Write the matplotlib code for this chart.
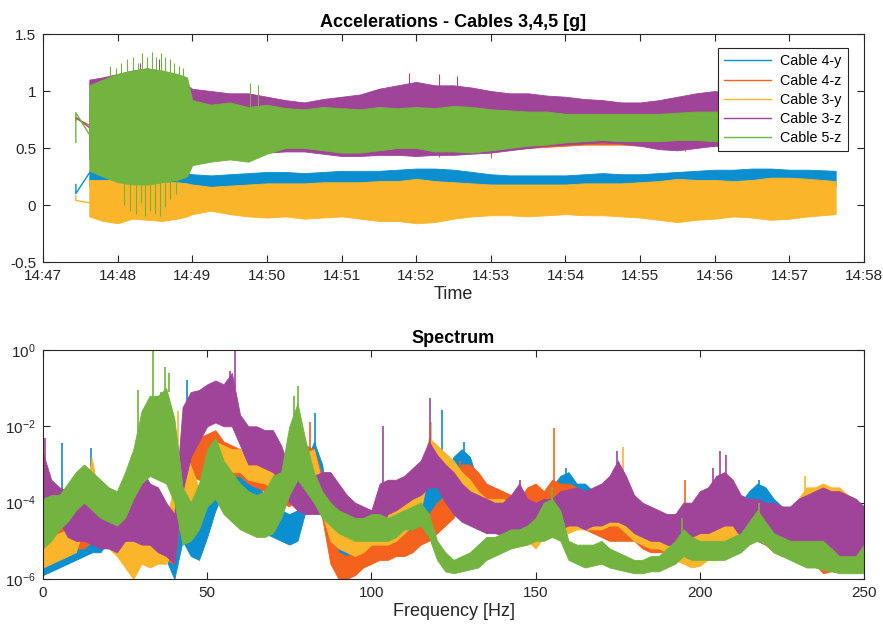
import datetime as dt
import numpy as np
import matplotlib
matplotlib.use("Agg")
import matplotlib.pyplot as plt
import matplotlib.dates as mdates
from matplotlib.ticker import LogFormatterMathtext, NullLocator

plt.rcParams['font.family'] = ['Liberation Sans', 'DejaVu Sans']
plt.rcParams['font.size'] = 10
plt.rcParams['mathtext.fontset'] = 'custom'
plt.rcParams['mathtext.rm'] = 'Liberation Sans'
plt.rcParams['axes.edgecolor'] = '#262626'
plt.rcParams['xtick.color'] = '#262626'
plt.rcParams['ytick.color'] = '#262626'

names = ['Cable 4-y', 'Cable 4-z', 'Cable 3-y', 'Cable 3-z', 'Cable 5-z']
colors = ['#0B8FD1', '#F5621E', '#FBB52B', '#A0449A', '#72B43F']

# ---------------- time signals (minutes after 14:47), envelope of each record
t_early = [0.44, 0.44, 0.62]
early = {
    'Cable 4-y': [0.18, 0.10, 0.28],
    'Cable 4-z': [0.74, 0.76, 0.70],
    'Cable 3-y': [0.08, 0.04, 0.02],
    'Cable 3-z': [0.76, 0.77, 0.68],
    'Cable 5-z': [0.55, 0.81, 0.62],
}

t_min = [0.62, 0.8, 1.0, 1.2, 1.4, 1.6, 1.8, 1.93, 2.0, 2.25, 2.5, 2.75, 3.0, 3.25,
         3.5, 3.75, 4.0, 4.25, 4.5, 4.75, 5.0, 5.25, 5.5, 5.75, 6.0, 6.25, 6.5, 6.75,
         7.0, 7.25, 7.5, 7.75, 8.0, 8.25, 8.5, 8.75, 9.0, 9.25, 9.5, 9.75, 10.0, 10.25, 10.62]

c4y_hi = [0.30, 0.30, 0.31, 0.30, 0.30, 0.30, 0.29, 0.28, 0.27, 0.26, 0.27, 0.28, 0.29, 0.29,
          0.28, 0.29, 0.30, 0.30, 0.30, 0.31, 0.32, 0.32, 0.31, 0.29, 0.27, 0.26, 0.26, 0.26,
          0.26, 0.27, 0.28, 0.27, 0.27, 0.28, 0.29, 0.30, 0.31, 0.31, 0.32, 0.32, 0.31, 0.31, 0.30]
c4y_lo = [0.16] * 43

c4z_hi = [0.85, 0.88, 0.9, 0.92, 0.92, 0.9, 0.88, 0.85, 0.82, 0.8, 0.8, 0.8, 0.8, 0.78,
          0.78, 0.8, 0.82, 0.84, 0.86, 0.88, 0.9, 0.88, 0.86, 0.85, 0.84, 0.82, 0.82, 0.8,
          0.8, 0.78, 0.78, 0.77, 0.77, 0.78, 0.8, 0.82, 0.83, 0.82, 0.8, 0.8, 0.79, 0.78, 0.78]
c4z_lo = [0.45, 0.45, 0.45, 0.45, 0.45, 0.45, 0.45, 0.45, 0.47, 0.47, 0.47, 0.48, 0.48, 0.49,
          0.49, 0.48, 0.47, 0.47, 0.48, 0.48, 0.47, 0.47, 0.48, 0.48, 0.48, 0.49, 0.5, 0.51,
          0.52, 0.53, 0.53, 0.53, 0.52, 0.51, 0.5, 0.51, 0.52, 0.52, 0.53, 0.53, 0.53, 0.53, 0.53]

c3y_hi = [0.22, 0.22, 0.22, 0.21, 0.21, 0.20, 0.20, 0.19, 0.18, 0.16, 0.17, 0.18, 0.19, 0.19,
          0.19, 0.20, 0.20, 0.20, 0.21, 0.21, 0.23, 0.21, 0.20, 0.19, 0.18, 0.18, 0.18, 0.18,
          0.18, 0.19, 0.19, 0.19, 0.20, 0.21, 0.23, 0.22, 0.22, 0.21, 0.22, 0.24, 0.24, 0.23, 0.21]
c3y_lo = [-0.10, -0.14, -0.16, -0.12, -0.13, -0.14, -0.12, -0.10, -0.08, -0.05, -0.08, -0.10, -0.11, -0.10,
          -0.12, -0.11, -0.10, -0.12, -0.14, -0.14, -0.16, -0.15, -0.12, -0.10, -0.09, -0.09, -0.10, -0.09,
          -0.08, -0.09, -0.09, -0.10, -0.11, -0.13, -0.15, -0.13, -0.12, -0.10, -0.11, -0.13, -0.12, -0.10, -0.08]

c3z_hi = [1.10, 1.12, 1.15, 1.18, 1.20, 1.15, 1.10, 1.05, 1.02, 1.00, 0.98, 0.98, 0.95, 0.92,
          0.90, 0.93, 0.95, 0.97, 1.02, 1.05, 1.08, 1.05, 1.05, 1.03, 1.00, 0.98, 0.98, 0.96,
          0.95, 0.93, 0.92, 0.90, 0.90, 0.92, 0.95, 0.98, 1.00, 0.98, 0.95, 0.93, 0.92, 0.90, 0.90]
c3z_lo = [0.40, 0.40, 0.40, 0.40, 0.40, 0.40, 0.40, 0.40, 0.45, 0.45, 0.45, 0.45, 0.46, 0.47,
          0.47, 0.45, 0.43, 0.43, 0.44, 0.44, 0.43, 0.44, 0.44, 0.45, 0.46, 0.48, 0.5, 0.52,
          0.53, 0.54, 0.55, 0.54, 0.52, 0.49, 0.48, 0.5, 0.52, 0.53, 0.53, 0.53, 0.53, 0.53, 0.53]

c5z_hi = [1.05, 1.10, 1.15, 1.18, 1.20, 1.18, 1.15, 1.12, 0.92, 0.88, 0.90, 0.86, 0.88, 0.85,
          0.84, 0.86, 0.85, 0.84, 0.86, 0.85, 0.86, 0.85, 0.87, 0.86, 0.84, 0.83, 0.82, 0.82,
          0.80, 0.80, 0.80, 0.80, 0.80, 0.80, 0.81, 0.82, 0.82, 0.82, 0.82, 0.80, 0.80, 0.80, 0.80]
c5z_lo = [0.30, 0.25, 0.20, 0.18, 0.18, 0.20, 0.22, 0.25, 0.35, 0.38, 0.40, 0.38, 0.45, 0.50,
          0.50, 0.48, 0.46, 0.46, 0.48, 0.50, 0.50, 0.47, 0.47, 0.46, 0.48, 0.50, 0.52, 0.53,
          0.55, 0.56, 0.57, 0.56, 0.56, 0.56, 0.57, 0.57, 0.56, 0.56, 0.56, 0.56, 0.56, 0.56, 0.56]

# spikes standing out of the envelopes (time, from, to)
spk_t = {
    'Cable 4-z': [4.1, 5.3, 6.0, 8.6],
    'Cable 3-z': [1.3, 1.55, 4.9, 5.3, 5.55, 9.05, 9.3],
    'Cable 5-z': [0.9, 0.98, 1.05, 1.12, 1.2, 1.27, 1.33, 1.4, 1.46, 1.52, 1.58, 1.64, 1.7,
                  1.76, 1.82, 1.88, 2.78, 2.88,
                  1.08, 1.16, 1.24, 1.31, 1.37, 1.44, 1.5, 1.57, 1.63, 1.7, 1.78],
}
spk_lo = {
    'Cable 4-z': [0.43, 0.42, 0.41, 0.47],
    'Cable 3-z': [1.0, 1.0, 0.95, 0.95, 0.95, 0.9, 0.9],
    'Cable 5-z': [0.9, 0.9, 0.9, 0.9, 0.9, 0.9, 0.9, 0.9, 0.9, 0.9, 0.9, 0.9, 0.9,
                  0.9, 0.9, 0.9, 0.7, 0.7,
                  0.0, -0.05, -0.08, 0.02, -0.1, -0.05, -0.08, -0.1, -0.02, 0.05, 0.1],
}
spk_hi = {
    'Cable 4-z': [0.55, 0.55, 0.55, 0.55],
    'Cable 3-z': [1.25, 1.28, 1.16, 1.15, 1.13, 1.1, 1.08],
    'Cable 5-z': [1.22, 1.2, 1.25, 1.28, 1.3, 1.25, 1.33, 1.3, 1.34, 1.3, 1.33, 1.3, 1.28,
                  1.25, 1.22, 1.2, 1.07, 1.05,
                  0.3, 0.3, 0.3, 0.3, 0.3, 0.3, 0.3, 0.3, 0.3, 0.3, 0.3],
}

# ---------------- spectrum, log10 envelopes on a 2.5 Hz grid
freq = np.linspace(0, 250, 101)

s4y_hi = [-4.9, -4.8, -4.7, -4.6, -4.5, -4.3, -4.2, -4.5, -4.5, -4.2,
          -3.8, -3.1, -3.1, -3.5, -3.8, -4.2, -4.5, -3.5, -4.1, -4.4,
          -3.5, -2.9, -2.6, -2.6, -2.6, -3.0, -3.3, -3.9, -4.1, -4.2,
          -4.3, -4.2, -3.0, -2.4, -3.0, -4.3, -4.9, -5.0, -4.8, -4.7,
          -4.6, -4.6, -4.4, -4.4, -4.2, -4.0, -3.8, -3.6, -3.3, -3.2,
          -2.8, -2.6, -2.8, -3.5, -3.7, -3.8, -3.9, -4.0, -4.1, -4.3,
          -4.0, -3.8, -3.6, -3.3, -3.2, -3.5, -3.5, -3.7, -3.9, -3.9,
          -3.9, -4.0, -4.0, -4.2, -4.3, -4.3, -4.4, -4.4, -4.2, -4.1,
          -4.0, -4.0, -4.0, -4.0, -4.1, -4.0, -3.7, -3.5, -3.6, -3.9,
          -4.1, -4.2, -4.0, -3.9, -3.8, -3.9, -4.0, -4.0, -4.1, -4.2, -4.3]
s4y_lo = [-5.9, -5.8, -5.7, -5.6, -5.5, -5.4, -5.3, -5.3, -5.0, -5.1,
          -5.0, -4.9, -4.7, -4.9, -5.0, -5.5, -6.0, -5.0, -5.4, -5.5,
          -4.9, -4.2, -3.7, -3.7, -3.8, -3.9, -4.4, -4.8, -4.9, -5.0,
          -5.1, -5.0, -4.2, -3.7, -4.2, -5.2, -5.6, -5.6, -5.5, -5.4,
          -5.3, -5.2, -5.0, -4.9, -4.8, -4.7, -4.5, -4.3, -4.2, -3.9,
          -3.8, -3.8, -3.9, -4.2, -4.3, -4.6, -4.6, -4.6, -4.6, -4.7,
          -4.6, -4.6, -4.6, -4.4, -4.4, -4.5, -4.6, -4.7, -4.7, -4.8,
          -4.8, -4.8, -4.9, -5.0, -5.0, -5.1, -5.2, -5.2, -5.1, -5.0,
          -4.9, -4.9, -4.9, -4.9, -4.9, -4.9, -4.6, -4.4, -4.5, -4.7,
          -4.9, -5.0, -4.9, -4.9, -4.9, -5.0, -5.0, -5.1, -5.2, -5.3, -5.4]

s4z_hi = [-4.3, -4.3, -4.2, -4.2, -4.2, -4.1, -3.9, -4.2, -4.4, -4.0,
          -3.5, -3.4, -3.5, -3.9, -4.4, -4.3, -4.4, -1.8, -1.6, -2.3,
          -2.2, -2.1, -2.4, -2.5, -2.6, -2.7, -2.8, -3.0, -3.2, -3.3,
          -3.3, -2.9, -2.5, -2.6, -3.3, -4.6, -5.3, -5.4, -5.2, -5.1,
          -5.1, -5.0, -4.9, -4.8, -4.8, -4.7, -4.5, -4.3, -4.0, -3.8,
          -3.5, -3.0, -3.0, -3.2, -3.5, -3.6, -3.7, -3.8, -3.9, -3.6,
          -3.5, -3.7, -3.4, -3.5, -3.5, -3.6, -3.7, -3.9, -4.0, -4.1,
          -4.2, -4.3, -4.3, -4.5, -4.6, -4.5, -4.4, -4.4, -4.1, -4.3,
          -4.1, -4.1, -4.1, -4.1, -4.1, -4.1, -4.0, -3.9, -4.1, -4.3,
          -4.4, -4.4, -4.3, -4.3, -4.5, -4.6, -4.5, -4.4, -4.3, -4.3, -4.4]
s4z_lo = [-5.4, -5.3, -5.2, -5.2, -5.2, -5.2, -5.0, -5.1, -5.2, -5.1,
          -4.6, -4.4, -4.5, -4.9, -5.4, -5.5, -5.6, -3.8, -3.3, -3.4,
          -3.4, -3.2, -3.2, -3.3, -3.3, -3.5, -3.6, -3.7, -3.9, -4.0,
          -4.1, -3.8, -3.4, -3.6, -4.4, -5.6, -6.0, -6.0, -5.9, -5.7,
          -5.6, -5.5, -5.5, -5.4, -5.4, -5.3, -5.1, -5.0, -4.8, -4.6,
          -4.4, -3.9, -3.9, -4.0, -4.2, -4.3, -4.4, -4.4, -4.5, -4.4,
          -4.3, -4.5, -4.6, -4.6, -4.6, -4.6, -4.7, -4.8, -4.9, -5.0,
          -5.0, -5.0, -5.0, -5.2, -5.3, -5.3, -5.3, -5.3, -5.0, -5.1,
          -5.0, -5.0, -5.1, -5.1, -5.1, -5.1, -5.0, -5.0, -5.1, -5.3,
          -5.4, -5.4, -5.5, -5.5, -5.6, -5.85, -5.8, -5.6, -5.6, -5.6, -5.6]

s3y_hi = [-4.9, -4.9, -4.8, -4.7, -4.45, -3.5, -2.9, -4.1, -4.5, -4.4,
          -4.4, -4.5, -4.4, -4.0, -4.4, -4.5, -3.5, -2.5, -3.05, -3.6,
          -2.9, -2.4, -2.5, -2.6, -2.6, -2.7, -2.75, -2.8, -2.9, -3.0,
          -3.1, -2.7, -2.7, -2.6, -3.5, -4.3, -4.7, -4.7, -4.7, -4.6,
          -4.4, -4.2, -4.0, -3.9, -3.7, -3.6, -3.3, -2.3, -2.5, -2.7,
          -2.9, -3.2, -3.4, -3.7, -3.9, -3.9, -3.9, -4.0, -4.0, -4.2,
          -4.3, -4.1, -4.1, -4.1, -4.0, -3.9, -3.9, -3.9, -3.9, -3.8,
          -3.8, -4.0, -4.1, -4.3, -4.5, -4.6, -4.6, -4.7, -4.8, -4.8,
          -4.8, -4.7, -4.6, -4.5, -4.3, -4.2, -4.0, -3.9, -4.2, -4.4,
          -4.6, -4.4, -3.9, -3.6, -3.6, -3.5, -3.6, -3.6, -3.8, -3.9, -4.2]
s3y_lo = [-5.7, -5.6, -5.5, -5.4, -5.3, -4.6, -3.9, -4.9, -5.2, -5.4,
          -5.7, -6.0, -5.6, -5.7, -5.6, -5.6, -5.2, -4.2, -4.6, -4.6,
          -3.75, -3.4, -3.2, -3.2, -3.2, -3.4, -3.45, -3.5, -3.6, -3.8,
          -3.8, -3.4, -3.45, -3.3, -4.3, -5.0, -5.2, -5.3, -5.4, -5.3,
          -5.1, -5.1, -5.1, -5.0, -4.8, -4.6, -4.2, -3.2, -3.5, -3.6,
          -3.8, -4.0, -4.3, -4.5, -4.6, -4.6, -4.6, -4.7, -4.7, -5.0,
          -5.2, -4.9, -4.8, -4.8, -4.8, -4.7, -4.7, -4.7, -4.7, -4.6,
          -4.6, -4.8, -5.0, -5.1, -5.2, -5.2, -5.3, -5.5, -5.6, -5.7,
          -5.65, -5.5, -5.5, -5.4, -5.2, -5.0, -4.9, -4.7, -5.1, -5.3,
          -5.4, -5.3, -4.8, -4.45, -4.5, -4.6, -4.6, -4.6, -4.8, -5.0, -5.1]

s3z_hi = [-2.7, -3.4, -3.6, -3.7, -3.7, -3.8, -4.0, -4.2, -4.2, -3.9,
          -3.5, -3.3, -3.2, -3.5, -3.6, -4.0, -4.3, -1.5, -1.1, -1.05,
          -0.9, -0.8, -0.9, -0.6, -1.7, -2.0, -2.0, -2.1, -2.1, -2.5,
          -3.1, -3.2, -3.3, -3.3, -3.2, -3.2, -3.5, -3.8, -4.0, -4.1,
          -4.2, -3.5, -3.4, -3.4, -3.3, -3.1, -2.9, -2.4, -2.75, -3.0,
          -3.2, -3.5, -3.7, -3.8, -3.9, -4.0, -4.0, -3.8, -3.5, -3.9,
          -4.0, -3.9, -3.9, -3.7, -3.65, -3.6, -3.7, -3.6, -3.5, -3.3,
          -2.9, -3.3, -3.8, -4.0, -4.1, -4.2, -4.3, -4.3, -4.0, -4.0,
          -3.7, -3.6, -3.3, -3.2, -3.4, -3.8, -3.9, -3.9, -4.0, -4.0,
          -4.1, -4.1, -3.9, -3.8, -3.7, -3.6, -3.7, -3.7, -3.8, -3.9, -4.1]
s3z_lo = [-4.6, -4.6, -4.5, -4.9, -5.0, -5.0, -5.1, -5.2, -5.2, -5.3,
          -5.0, -5.0, -5.1, -5.1, -5.3, -5.4, -5.6, -3.7, -2.8, -2.4,
          -2.0, -1.9, -2.0, -2.0, -2.5, -3.0, -3.0, -3.1, -3.2, -3.5,
          -4.0, -4.2, -4.3, -4.3, -4.3, -4.3, -4.3, -4.5, -4.7, -4.8,
          -4.9, -4.7, -4.3, -4.2, -4.05, -3.9, -3.8, -3.6, -3.6, -4.0,
          -4.3, -4.5, -4.6, -4.7, -4.8, -4.8, -4.85, -4.8, -4.8, -4.8,
          -4.8, -4.8, -4.8, -4.7, -4.6, -4.6, -4.7, -4.6, -4.6, -4.5,
          -4.5, -4.6, -4.8, -4.9, -5.0, -5.0, -5.1, -5.15, -5.0, -4.9,
          -4.8, -4.8, -4.7, -4.6, -4.6, -4.9, -4.95, -5.0, -5.1, -5.2,
          -5.2, -5.3, -5.1, -5.0, -5.1, -5.3, -5.3, -5.4, -5.4, -5.5, -5.7]

s5z_hi = [-3.9, -3.8, -3.8, -3.5, -3.2, -3.0, -3.2, -3.4, -3.6, -3.7,
          -3.2, -2.6, -1.6, -1.2, -1.2, -1.0, -1.8, -3.6, -4.0, -3.5,
          -2.6, -2.3, -2.9, -3.2, -3.5, -3.7, -3.8, -3.7, -3.3, -3.2,
          -2.0, -1.4, -2.4, -3.2, -3.7, -4.0, -4.2, -4.3, -4.4, -4.4,
          -4.3, -4.3, -4.4, -4.3, -4.2, -4.1, -4.0, -4.3, -5.0, -5.3,
          -5.5, -5.4, -5.3, -5.1, -4.9, -4.9, -4.8, -4.7, -4.7, -4.6,
          -4.4, -4.0, -3.9, -4.2, -5.0, -5.1, -5.1, -5.1, -5.0, -5.2,
          -5.3, -5.4, -5.5, -5.5, -5.4, -5.4, -5.2, -5.0, -4.7, -4.9,
          -5.0, -5.0, -5.0, -5.0, -4.9, -4.8, -4.5, -4.2, -4.5, -4.8,
          -4.9, -5.0, -5.0, -5.0, -5.0, -5.0, -5.2, -5.4, -5.4, -5.4, -5.1]
s5z_lo = [-5.2, -5.0, -4.7, -4.5, -4.2, -4.0, -4.2, -4.4, -4.5, -4.6,
          -4.4, -3.9, -3.5, -3.3, -3.4, -3.5, -4.0, -5.1, -5.0, -4.7,
          -4.1, -3.9, -4.3, -4.5, -4.7, -4.8, -4.9, -4.9, -4.8, -4.4,
          -3.8, -3.4, -3.7, -4.0, -4.4, -4.6, -4.8, -4.9, -5.0, -5.0,
          -5.0, -5.0, -5.0, -4.9, -4.7, -4.7, -4.6, -4.9, -5.5, -5.8,
          -5.85, -5.8, -5.75, -5.7, -5.5, -5.4, -5.3, -5.2, -5.15, -5.1,
          -5.0, -5.0, -4.9, -5.0, -5.5, -5.6, -5.7, -5.65, -5.6, -5.7,
          -5.75, -5.8, -5.85, -5.85, -5.8, -5.8, -5.7, -5.6, -5.4, -5.5,
          -5.5, -5.5, -5.5, -5.5, -5.4, -5.3, -5.1, -5.0, -5.1, -5.3,
          -5.4, -5.5, -5.6, -5.7, -5.7, -5.75, -5.8, -5.85, -5.85, -5.85, -5.85]

# narrow peaks: frequency, base, top (log10)
pk_f = {
    'Cable 4-y': [5.8, 14.5, 43.7, 82.8, 121.4, 128.3, 159.4, 218.0],
    'Cable 4-z': [44.5, 81.2, 127.0, 155.6, 195.5],
    'Cable 3-y': [15.0, 41.0, 118.0, 176.5, 232.0],
    'Cable 3-z': [0.5, 57.0, 58.6, 103.6, 117.7, 145.2, 174.7, 204.0, 206.2, 208.0],
    'Cable 5-z': [29.0, 33.5, 36.0, 37.2, 38.3, 76.5, 77.6, 155.0, 194.5, 218.0],
}
pk_lo = {
    'Cable 4-y': [-4.7, -4.3, -3.5, -2.5, -3.3, -2.8, -3.5, -3.6],
    'Cable 4-z': [-2.0, -2.6, -3.1, -3.5, -4.2],
    'Cable 3-y': [-3.0, -3.3, -2.5, -3.8, -3.7],
    'Cable 3-z': [-3.0, -1.0, -1.0, -4.0, -2.6, -3.6, -3.0, -3.7, -3.3, -3.3],
    'Cable 5-z': [-2.6, -1.3, -1.3, -1.1, -1.1, -2.0, -1.5, -4.0, -4.8, -4.3],
}
pk_hi = {
    'Cable 4-y': [-2.45, -2.57, -0.8, -1.66, -1.57, -2.4, -3.1, -3.4],
    'Cable 4-z': [-1.4, -1.9, -2.9, -2.05, -3.4],
    'Cable 3-y': [-2.84, -1.6, -1.9, -2.53, -3.3],
    'Cable 3-z': [-2.3, -0.55, 0.0, -2.0, -1.25, -3.4, -2.65, -3.1, -2.66, -2.75],
    'Cable 5-z': [-1.05, 0.0, -1.1, -0.45, -0.6, -1.2, -0.95, -3.6, -4.4, -4.0],
}

acc_hi = [c4y_hi, c4z_hi, c3y_hi, c3z_hi, c5z_hi]
acc_lo = [c4y_lo, c4z_lo, c3y_lo, c3z_lo, c5z_lo]
spec_hi = [s4y_hi, s4z_hi, s3y_hi, s3z_hi, s5z_hi]
spec_lo = [s4y_lo, s4z_lo, s3y_lo, s3z_lo, s5z_lo]

t0 = dt.datetime(2019, 1, 1, 14, 47)


def to_time(mins):
    return [t0 + dt.timedelta(minutes=m) for m in mins]


fig = plt.figure(figsize=(8.83, 6.3), dpi=100)
ax1 = fig.add_axes([0.0487, 0.5841, 0.9298, 0.3619])
ax2 = fig.add_axes([0.0487, 0.0810, 0.9298, 0.3635])

# top: accelerations
tt = to_time(t_min)
for i, name in enumerate(names):
    c = colors[i]
    ax1.plot(to_time(t_early), early[name], color=c, lw=1.0, label=name, zorder=2 + i)
    ax1.fill_between(tt, acc_lo[i], acc_hi[i], color=c, lw=0.6, edgecolor=c, zorder=2 + i)
    if name in spk_t:
        ax1.vlines(to_time(spk_t[name]), spk_lo[name], spk_hi[name], color=c, lw=0.8, zorder=2 + i)

ax1.set_xlim(t0, t0 + dt.timedelta(minutes=11))
ax1.set_ylim(-0.5, 1.5)
ax1.set_yticks([-0.5, 0, 0.5, 1, 1.5])
ax1.set_yticklabels(['-0.5', '0', '0.5', '1', '1.5'])
ax1.xaxis.set_major_locator(mdates.MinuteLocator())
ax1.xaxis.set_major_formatter(mdates.DateFormatter('%H:%M'))
ax1.set_xlabel('Time', fontsize=13, color='#262626', labelpad=2)
ax1.set_title('Accelerations - Cables 3,4,5 [g]', fontsize=13, fontweight='bold', pad=5)
leg = ax1.legend(loc='upper right', bbox_to_anchor=(0.9805, 0.9386), fontsize=10.3,
                 handlelength=3.3, frameon=True, fancybox=False, framealpha=1.0,
                 borderaxespad=0, labelspacing=0.36, borderpad=0.45, handletextpad=0.6)
leg.get_frame().set_edgecolor('#262626')
leg.get_frame().set_linewidth(0.8)
leg.set_zorder(20)

# bottom: spectrum
for i, name in enumerate(names):
    c = colors[i]
    ax2.fill_between(freq, 10.0 ** np.array(spec_lo[i]), 10.0 ** np.array(spec_hi[i]),
                     color=c, lw=0.6, edgecolor=c, zorder=2 + i)
    ax2.vlines(pk_f[name], 10.0 ** np.array(pk_lo[name]), 10.0 ** np.array(pk_hi[name]),
               color=c, lw=1.2, zorder=2 + i)

ax2.set_yscale('log')
ax2.set_xlim(0, 250)
ax2.set_ylim(1e-6, 1e0)
ax2.set_xticks([0, 50, 100, 150, 200, 250])
ax2.set_yticks([1e-6, 1e-4, 1e-2, 1e0])
ax2.yaxis.set_major_formatter(LogFormatterMathtext())
ax2.yaxis.set_minor_locator(NullLocator())
ax2.set_xlabel('Frequency [Hz]', fontsize=13, color='#262626', labelpad=2)
ax2.set_title('Spectrum', fontsize=13, fontweight='bold', pad=5)

for ax in (ax1, ax2):
    ax.tick_params(which='major', direction='in', top=True, right=True, length=5,
                   width=0.8, labelsize=11, pad=5)
    for s in ax.spines.values():
        s.set_linewidth(0.8)
        s.set_zorder(30)

fig.savefig('out.png', dpi=100)
